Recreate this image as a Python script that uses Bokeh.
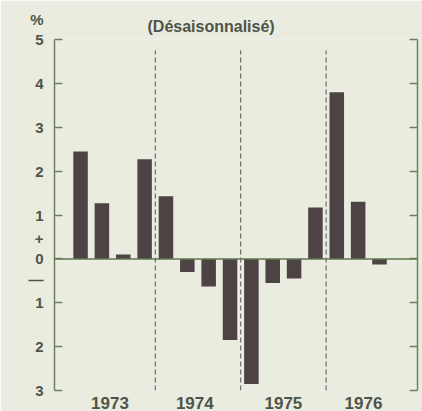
from bokeh.plotting import figure
from bokeh.models import Range1d, LinearAxis, FixedTicker, Span
from bokeh.embed import file_html
from bokeh.resources import INLINE

# Data: quarterly change (%), seasonally adjusted, 1973 Q1 .. 1976 Q3
quarters = list(range(15))
values = [2.45, 1.27, 0.1, 2.27, 1.43,
          -0.3, -0.63, -1.85, -2.85,
          -0.55, -0.45, 1.17, 3.8, 1.3, -0.13]
years = ["1973", "1974", "1975", "1976"]
year_pos = [1.38, 5.35, 9.5, 13.25]
year_bounds = [3.5, 7.5, 11.5]
y_ticks = [-3, -2, -1, 0, 1, 2, 3, 4, 5]
y_tick_labels = ["3", "2", "1", "+\n0\n\u2014", "1", "2", "3", "4", "%\n5\n "]

BG = "#e9ecdf"
BAR = "#4d4345"
AX = "#6f8062"
TXT = "#4e5449"
FONT = "Liberation Sans"

p = figure(width=422, height=411, output_backend="svg", toolbar_location=None,
           x_range=Range1d(-1.22, 15.78), y_range=Range1d(-3, 5),
           min_border_left=54, min_border_right=5, min_border_top=39,
           min_border_bottom=20)
p.background_fill_color = BG
p.border_fill_color = BG
p.outline_line_color = None
p.xgrid.visible = False
p.ygrid.visible = False
p.axis.visible = False

p.title.text = "(Désaisonnalisé)"
p.title.align = "left"
p.title.offset = 93
p.title.text_font = FONT
p.title.text_font_style = "bold"
p.title.text_font_size = "16px"
p.title.text_color = TXT
p.title.standoff = 9

p.vbar(x=quarters, top=values, bottom=0, width=0.68, fill_color=BAR, line_color=None)

# dashed year separators
p.segment(x0=year_bounds, x1=year_bounds, y0=[-3] * 3, y1=[4.75] * 3,
          line_color="#555555", line_width=1, line_dash="5 3")

p.add_layout(Span(location=0, dimension="width", line_color="#5f7a50", line_width=1.5))

# left axis
la = LinearAxis(ticker=FixedTicker(ticks=y_ticks),
                major_label_overrides={t: l for t, l in zip(y_ticks, y_tick_labels)})
la.axis_line_color = AX
la.axis_line_width = 1.5
la.major_tick_line_color = AX
la.major_tick_line_width = 1.5
la.major_tick_in = 8
la.major_tick_out = 0
la.minor_tick_line_color = None
la.major_label_standoff = 11
la.major_label_text_font = FONT
la.major_label_text_font_style = "bold"
la.major_label_text_font_size = "15px"
la.major_label_text_color = TXT
p.add_layout(la, "left")

# right axis
ra = LinearAxis(ticker=FixedTicker(ticks=y_ticks),
                major_label_overrides={t: "" for t in y_ticks})
ra.axis_line_color = AX
ra.axis_line_width = 1.5
ra.major_tick_line_color = AX
ra.major_tick_line_width = 1.5
ra.major_tick_in = 8
ra.major_tick_out = 0
ra.minor_tick_line_color = None
ra.major_label_standoff = 0
p.add_layout(ra, "right")

# bottom axis (year labels)
ba = LinearAxis(ticker=FixedTicker(ticks=year_pos),
                major_label_overrides={pos: y for pos, y in zip(year_pos, years)})
ba.axis_line_color = None
ba.major_tick_line_color = None
ba.minor_tick_line_color = None
ba.major_label_standoff = 0
ba.major_label_text_font = FONT
ba.major_label_text_font_style = "bold"
ba.major_label_text_font_size = "17px"
ba.major_label_text_color = TXT
p.add_layout(ba, "below")

open("out.html", "w").write(file_html(p, INLINE))
